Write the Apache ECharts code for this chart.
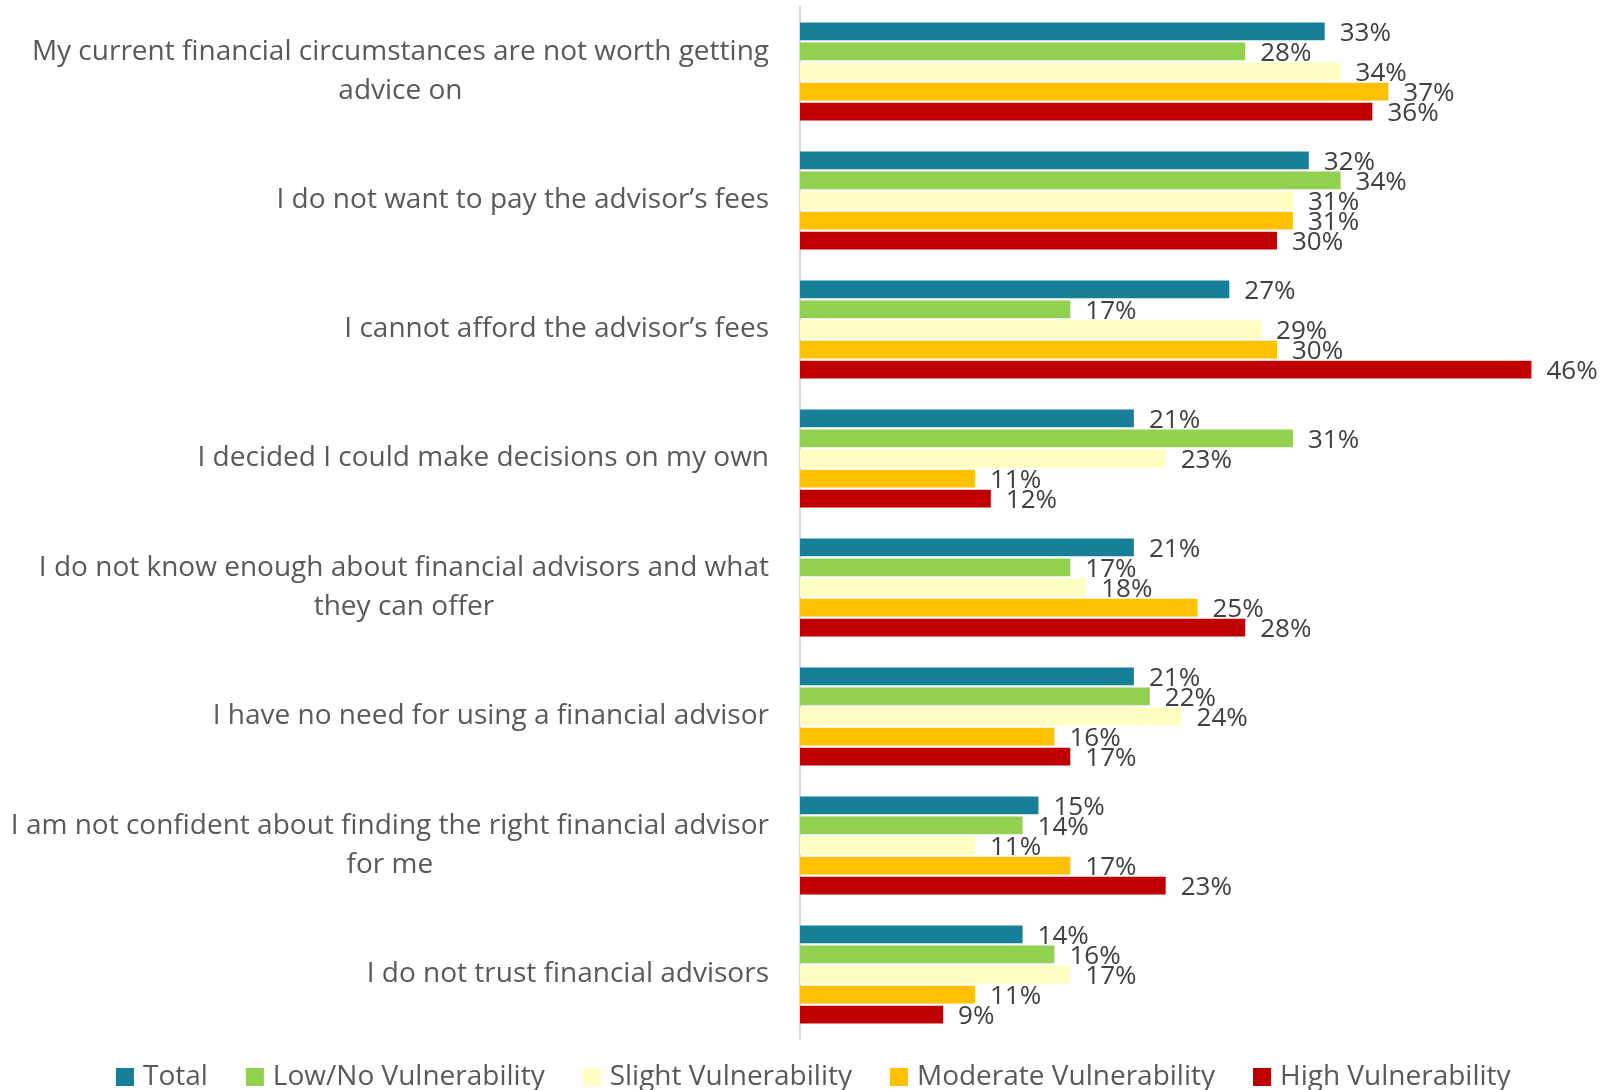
<!DOCTYPE html>
<html>
<head>
<meta charset="utf-8">
<title>Reasons for not using a financial advisor</title>
<script src="https://cdn.jsdelivr.net/npm/echarts@6/dist/echarts.min.js"></script>
<style>
  html, body { margin: 0; padding: 0; background: #ffffff; }
  #chart { width: 1602px; height: 1090px; }
</style>
</head>
<body>
<div id="chart"></div>
<script>
// Reasons, listed top to bottom
const reasons = [
  'My current financial circumstances are not worth getting\nadvice on',
  'I do not want to pay the advisor\u2019s fees',
  'I cannot afford the advisor\u2019s fees',
  'I decided I could make decisions on my own',
  'I do not know enough about financial advisors and what\nthey can offer',
  'I have no need for using a financial advisor',
  'I am not confident about finding the right financial advisor\nfor me',
  'I do not trust financial advisors'
];

// Share of respondents (%) per vulnerability segment
const total        = [33, 32, 27, 21, 21, 21, 15, 14];
const lowNone      = [28, 34, 17, 31, 17, 22, 14, 16];
const slight       = [34, 31, 29, 23, 18, 24, 11, 17];
const moderate     = [37, 31, 30, 11, 25, 16, 17, 11];
const high         = [36, 30, 46, 12, 28, 17, 23, 9];

const seriesNames  = ['Total', 'Low/No Vulnerability', 'Slight Vulnerability', 'Moderate Vulnerability', 'High Vulnerability'];
const seriesValues = [total, lowNone, slight, moderate, high];
const seriesColors = ['#168099', '#92D050', '#FFFFC3', '#FFC000', '#C00000'];

const FONT = '"Open Sans", "Noto Sans", sans-serif';

const chart = echarts.init(document.getElementById('chart'), null, { renderer: 'canvas' });

chart.setOption({
  backgroundColor: '#ffffff',
  animation: false,
  textStyle: { fontFamily: FONT },
  grid: { left: 800, right: 7, top: 7, bottom: 51, containLabel: false },
  legend: {
    data: seriesNames,
    left: 116,
    top: 1063,
    padding: 0,
    itemWidth: 18,
    itemHeight: 18,
    itemGap: 38,
    icon: 'rect',
    textStyle: { fontFamily: FONT, fontSize: 28, color: '#595959', padding: [0, 0, 0, 4] }
  },
  xAxis: {
    type: 'value',
    min: 0,
    max: 50,
    show: false,
    splitLine: { show: false }
  },
  yAxis: {
    type: 'category',
    inverse: true,
    data: reasons,
    axisLine: { show: true, lineStyle: { color: '#D9D9D9', width: 2 } },
    axisTick: { show: false },
    axisLabel: {
      margin: 31,
      align: 'right',
      fontFamily: FONT,
      fontSize: 28,
      lineHeight: 39,
      color: '#595959',
      formatter: function (v) {
        return v.split('\n').map(function (line) { return '{c|' + line + '}'; }).join('\n');
      },
      rich: {
        c: { align: 'center', fontFamily: FONT, fontSize: 28, lineHeight: 39, color: '#595959' }
      }
    }
  },
  series: seriesNames.map(function (name, i) {
    return {
      name: name,
      type: 'bar',
      data: seriesValues[i],
      barCategoryGap: '24%',
      barGap: '13%',
      itemStyle: { color: seriesColors[i] },
      label: {
        show: true,
        position: 'right',
        distance: 15,
        offset: [0, 2],
        formatter: '{c}%',
        fontFamily: FONT,
        fontSize: 26,
        color: '#404040'
      }
    };
  })
});
</script>
</body>
</html>
